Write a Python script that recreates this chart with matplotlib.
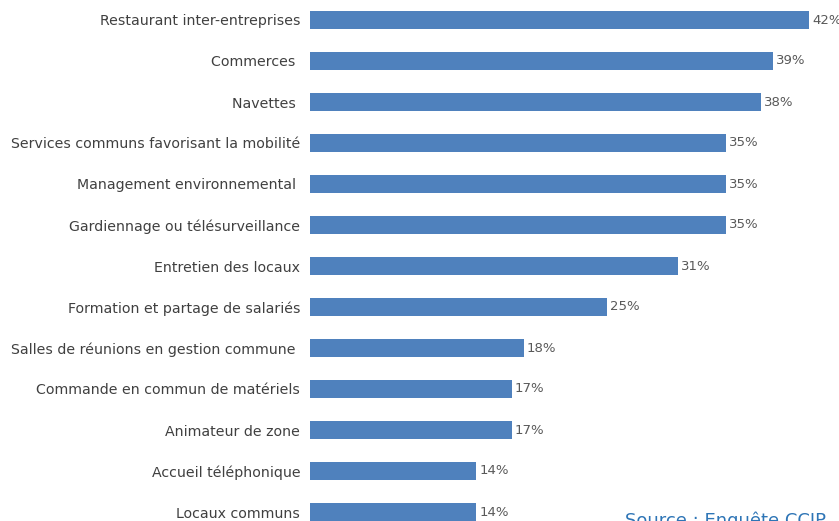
import matplotlib
matplotlib.use('Agg')
import matplotlib.pyplot as plt

# ----------------- data
categories = ['Restaurant inter-entreprises', 'Commerces ', 'Navettes ',
              'Services communs favorisant la mobilité', 'Management environnemental ',
              'Gardiennage ou télésurveillance', 'Entretien des locaux',
              'Formation et partage de salariés', 'Salles de réunions en gestion commune ',
              'Commande en commun de matériels', 'Animateur de zone',
              'Accueil téléphonique', 'Locaux communs']
values = [42, 39, 38, 35, 35, 35, 31, 25, 18, 17, 17, 14, 14]
source = 'Source : Enquête CCIP'

W, H = 839, 521
fig = plt.figure(figsize=(W / 100, H / 100), dpi=100)
left, right = 310 / W, 809 / W
ax = fig.add_axes([left, 0, right - left, 1])

ypos = list(range(len(categories)))
ax.barh(ypos, values, height=0.42, color='#4F81BD')
ax.set_xlim(0, 42)
ax.set_ylim(12 + 9 / 41, -20 / 41)

for y, v in zip(ypos, values):
    ax.text(v + 0.25, y, '{0}%'.format(v), va='center', ha='left',
            fontsize=9.5, color='#595959', clip_on=False)

ax.set_yticks(ypos)
ax.set_yticklabels(categories, fontsize=10.2, color='#404040')
ax.tick_params(axis='y', length=0, pad=7)
ax.set_xticks([])
for s in ax.spines.values():
    s.set_visible(False)

fig.text(625 / W, 1 - 511 / H, source, ha='left', va='top',
         fontsize=13, color='#2E75B6')

fig.savefig('out.png', dpi=100)
